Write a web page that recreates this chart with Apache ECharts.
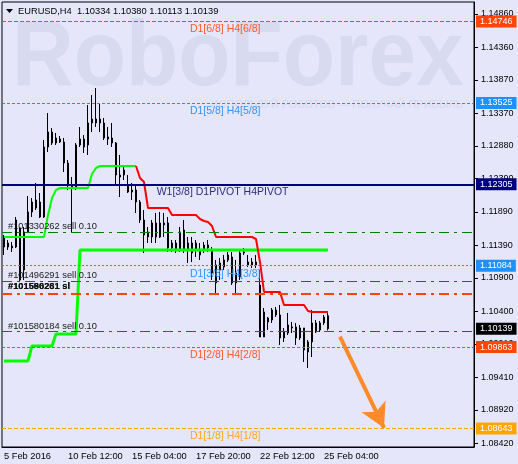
<!DOCTYPE html>
<html><head><meta charset="utf-8">
<script src="https://cdn.jsdelivr.net/npm/echarts@6/dist/echarts.min.js"></script>
<style>html,body{margin:0;padding:0;background:#E6E6FA;}#c{width:518px;height:464px;}</style>
</head><body><div id="c"></div>
<script>
const symbolName = 'EURUSD,H4';
// H4 candles: [open, close, low, high]
const candles = [
[1.11365,1.11515,1.11245,1.11545],[1.11425,1.11365,1.1132,1.1147],[1.1138,1.1135,1.1129,1.1144],[1.11365,1.1177,1.1135,1.11815],
[1.1165,1.1087,1.1084,1.11665],[1.1159,1.1102,1.1087,1.11665],[1.1159,1.1189,1.11575,1.1213],[1.1189,1.1204,1.11815,1.1210],
[1.1195,1.1207,1.1192,1.12325],[1.1204,1.11815,1.1180,1.12175],[1.11815,1.12865,1.1180,1.1297],[1.12865,1.1309,1.1279,1.13375],
[1.1309,1.12925,1.12895,1.1315],[1.12925,1.1300,1.12895,1.13075],[1.12985,1.1294,1.12925,1.1303],[1.1294,1.12625,1.1249,1.1300],
[1.12625,1.12295,1.1222,1.1267],[1.12295,1.1225,1.11575,1.12415],[1.12265,1.12895,1.1222,1.12925],[1.12895,1.12985,1.12865,1.13165],
[1.12985,1.12865,1.12775,1.13045],[1.12895,1.13225,1.12745,1.13495],[1.13225,1.13285,1.1309,1.13645],[1.13285,1.13225,1.13165,1.1375],
[1.13225,1.13285,1.1309,1.13525],[1.13225,1.1300,1.1297,1.1330],[1.13015,1.12985,1.12895,1.13165],[1.1300,1.12925,1.12865,1.13225],
[1.12925,1.12445,1.12295,1.1294],[1.12445,1.12415,1.12115,1.12745],[1.12445,1.1252,1.1237,1.12565],[1.12295,1.1219,1.12175,1.12445],
[1.1222,1.1219,1.1207,1.12325],[1.1222,1.1204,1.11875,1.12295],[1.1204,1.1177,1.11725,1.1207],[1.1177,1.11545,1.11275,1.1192],
[1.1159,1.11515,1.11425,1.11665],[1.11515,1.11725,1.11425,1.1177],[1.11515,1.11725,1.11425,1.11875],[1.11515,1.11725,1.1150,1.1189],
[1.11725,1.11695,1.11515,1.11875],[1.11725,1.1135,1.1129,1.11815],[1.1135,1.11425,1.1129,1.1147],[1.11425,1.1132,1.11275,1.1147],
[1.1132,1.1159,1.1129,1.11665],[1.1162,1.1132,1.11275,1.1177],[1.11425,1.1132,1.11125,1.11515],[1.11425,1.11275,1.1114,1.11515],
[1.11425,1.1132,1.11215,1.1147],[1.11245,1.1132,1.1117,1.11425],[1.1132,1.11395,1.11275,1.1144],[1.1135,1.11395,1.1129,1.1147],
[1.1132,1.10975,1.1087,1.11365],[1.10825,1.11095,1.10675,1.1117],[1.1102,1.11125,1.1087,1.1120],[1.11065,1.1117,1.1102,1.11245],
[1.1117,1.11245,1.1114,1.1129],[1.11215,1.10825,1.10795,1.1129],[1.10975,1.10825,1.10645,1.1117],[1.10915,1.11275,1.1087,1.1132],
[1.1129,1.11275,1.11245,1.1135],[1.11095,1.1114,1.11065,1.11245],[1.11095,1.1114,1.1105,1.1120],[1.1114,1.11095,1.1105,1.11245],
[1.10795,1.10015,1.10015,1.1102],[1.10015,1.1039,1.10015,1.1045],[1.1024,1.1030,1.1012,1.10315],[1.1027,1.1042,1.10225,1.1045],
[1.1042,1.10345,1.10315,1.10465],[1.10345,1.1000,1.09895,1.10495],[1.1000,1.1009,1.0994,1.1015],[1.10075,1.10195,1.10045,1.10375],
[1.10165,1.1015,1.10075,1.1024],[1.10165,1.1000,1.09895,1.10225],[1.1015,1.1000,1.0997,1.10195],[1.1015,1.0982,1.0964,1.1015],
[1.0994,1.0979,1.0955,1.0997],[1.0994,1.10225,1.09715,1.1042],[1.1009,1.10225,1.10075,1.1027],[1.1012,1.10225,1.1009,1.10255],
[1.10225,1.10315,1.10195,1.10345],[1.10334,1.10139,1.10113,1.10380]
];
// trailing line, green part (bars 0..33) and red part (bars 33..81)
const trailGreen = [1.11515,1.11515,1.11515,1.11515,1.11515,1.11515,1.11515,1.11515,1.11515,1.11515,1.11515,
  1.11845,1.1210,1.1222,1.1225,1.1225,1.1225,1.1225,1.1225,1.1225,1.1225,1.1225,1.1246,1.1255,
  1.1258,1.1258,1.1258,1.1258,1.1258,1.1258,1.1258,1.1258,1.1258,1.1258];
const trailRedStart = 33;
const trailRed = [1.1258,1.1240,1.1234,1.1195,1.1195,1.1195,1.1195,1.1195,1.1195,
  1.11845,1.11845,1.11845,1.11845,1.11845,1.11845,1.11845,1.11785,1.11755,1.1174,1.1168,
  1.11515,1.11515,1.11515,1.11515,1.11515,1.11515,1.11515,1.11515,1.11515,1.11515,1.11485,1.1114,
  1.1069,1.1069,1.1069,1.1069,1.1069,1.10495,1.10495,1.10495,1.10495,1.10495,1.10495,1.10405,
  1.1039,1.1039,1.1039,1.1039,1.1039];
// lower green step line (bars 0..81)
const lowerGreen = [1.09655,1.09655,1.09655,1.09655,1.09655,1.09655,1.09655,
  1.0988,1.0988,1.0988,1.0988,1.0988,1.0988,
  1.1006,1.1006,1.1006,1.1006,1.1006,1.1006,
  1.1132,1.1132,1.1132,1.1132,1.1132,1.1132,1.1132,1.1132,1.1132,1.1132,1.1132,1.1132,1.1132,1.1132,1.1132,1.1132,
  1.1132,1.1132,1.1132,1.1132,1.1132,1.1132,1.1132,1.1132,1.1132,1.1132,1.1132,1.1132,1.1132,1.1132,1.1132,1.1132,
  1.1132,1.1132,1.1132,1.1132,1.1132,1.1132,1.1132,1.1132,1.1132,1.1132,1.1132,1.1132,1.1132,1.1132,1.1132,1.1132,
  1.1132,1.1132,1.1132,1.1132,1.1132,1.1132,1.1132,1.1132,1.1132,1.1132,1.1132,1.1132,1.1132,1.1132,1.1132];
const slotCount = 118;
const xTickIndex = [0,16,32,48,64,80];
const xTickLabels = ['5 Feb 2016','10 Feb 12:00','15 Feb 04:00','17 Feb 20:00','22 Feb 12:00','25 Feb 04:00'];
const yTickValues = [1.14860,1.14360,1.13870,1.13370,1.12880,1.12390,1.11890,1.11390,1.10900,1.10400,1.09910,1.09410,1.08920,1.08420];
const murrayValues = [1.14746,1.13525,1.12305,1.11084,1.09863,1.08643];
const murrayNames = ['D1[6/8] H4[6/8]','D1[5/8] H4[5/8]','W1[3/8] D1PIVOT H4PIVOT','D1[3/8] H4[3/8]','D1[2/8] H4[2/8]','D1[1/8] H4[1/8]'];
const murrayLabelBar = [64,64,71,64,64,64];
const orderValues = [1.11585,1.10855,1.10095];
const orderNames = ['#101330262 sell 0.10','#101496291 sell 0.10','#101580184 sell 0.10'];
const slValue = 1.1067;
const slNames = ['#101580261 sl','#101596281 sl'];
const arrowFrom = [84, 1.1002];
const arrowTo = [95, 1.0865];

// styles
const FONT = '"Liberation Sans", Arial, sans-serif';
const CLEAR = 'rgba(0,0,0,0)';
const murrayStyle = [
  {c:'#FF4500', t:'#FF5A28', type:[4,2], w:1},
  {c:'#1E90FF', t:'#2F95FF', type:[3,2], w:1},
  {c:'#000080', t:'#2B2B85', type:'solid', w:2},
  {c:'#1E90FF', t:'#2F95FF', type:[2,2], w:1},
  {c:'#FF4500', t:'#FF5A28', type:[3,2], w:1},
  {c:'#FFA500', t:'#FFA820', type:[4,2], w:1}
];
const last = candles[candles.length-1];
const cats = Array.from({length: slotCount}, (_, i) => String(i));
function pad(arr, start){ const d = new Array(slotCount).fill('-'); arr.forEach((v,k)=>{ d[start+k]=v; }); return d; }

const boxLabel = (bg, txt) => ({show:true, position:'end', distance:2, formatter: txt, backgroundColor:bg, color:'#fff',
  padding:[2,4,1,4], fontSize:9, fontFamily:FONT});

const markLines = [];
murrayValues.forEach((v,i)=>{
  const s = murrayStyle[i];
  markLines.push({yAxis:v, lineStyle:{color:s.c, type:s.type, width:s.w}, label: boxLabel(s.c, v.toFixed(5))});
});
orderValues.forEach((v,i)=>{
  markLines.push({yAxis:v, lineStyle:{color:'#008000', type:[10,5,3,5], width:1},
    label:{show:true, position:'insideStartTop', distance:[6,1], formatter: orderNames[i], color:'#1a1a1a', fontSize:9.3, fontFamily:FONT}});
});
slNames.forEach((n,k)=>{
  markLines.push({yAxis:slValue, lineStyle: k===0 ? {color:'#FF4500', type:[10,5,3,5], width:2} : {color:CLEAR, width:1},
    label:{show:true, position:'insideStartTop', distance:[6,2], formatter:n, color:'#111', fontSize:9.3, fontWeight:'bold', fontFamily:FONT}});
});
markLines.push({yAxis:last[1], lineStyle:{color:CLEAR, width:1}, label: boxLabel('#000000', last[1].toFixed(5))});
markLines.push([
  {coord:arrowFrom, symbol:'none', lineStyle:{color:'#FF8A2A', width:4, type:'solid'}, label:{show:false}},
  {coord:arrowTo, symbol:'arrow', symbolSize:[20,24]}
]);

const markPoints = murrayValues.map((v,i)=>({
  coord:[murrayLabelBar[i], v], symbol:'rect', symbolSize:1, itemStyle:{color:CLEAR},
  label:{show:true, position:'left', distance:0, offset:[1,8], formatter: murrayNames[i], color: murrayStyle[i].t, fontSize:10.5, fontFamily:FONT}
}));

const chart = echarts.init(document.getElementById('c'), null, {renderer:'canvas'});
chart.setOption({
  animation:false,
  backgroundColor:'#E6E6FA',
  grid:{left:2, right:44, top:2, bottom:17, show:true, borderColor:'#000', borderWidth:1, backgroundColor:'transparent'},
  xAxis:{type:'category', data:cats, boundaryGap:true,
    axisLine:{lineStyle:{color:'#000', width:1}},
    axisTick:{alignWithLabel:true, length:4, lineStyle:{color:'#000'}, interval:(i)=>xTickIndex.includes(i)},
    axisLabel:{interval:(i)=>xTickIndex.includes(i), formatter:(v)=>xTickLabels[xTickIndex.indexOf(Number(v))] || '', align:'left', margin:5, color:'#000', fontSize:9.3, fontFamily:FONT},
    splitLine:{show:false}},
  yAxis:{type:'value', position:'right', min:1.083645, max:1.1504, scale:true,
    axisLine:{show:true, lineStyle:{color:'#000'}},
    axisTick:{show:true, length:4, customValues:yTickValues, lineStyle:{color:'#000'}},
    axisLabel:{customValues:yTickValues, formatter:(v)=>v.toFixed(5), margin:7, color:'#000', fontSize:9, fontFamily:FONT},
    splitLine:{show:false}},
  graphic:[
    {type:'text', z:-5, x:12, y:60, scaleX:0.93, style:{text:'RoboForex', x:0, y:0, font:'bold 92px "Liberation Sans", Arial, sans-serif', fill:'#D8DAEF', textVerticalAlign:'middle'}},
    {type:'text', z:-5, style:{text:'ИСПОЛЬЗУЙ РОБОТОВ — ПОЛУЧАЙ ПРИБЫЛЬ', x:463, y:105, font:'11px "Liberation Sans", Arial, sans-serif', fill:'#D6D8EE', textAlign:'right', textVerticalAlign:'middle'}},
    {type:'polygon', z:100, shape:{points:[[6,9],[13,9],[9.5,13]]}, style:{fill:'#000'}},
    {type:'text', z:100, style:{text: symbolName + '  ' + [last[0], last[3], last[2], last[1]].map(v=>v.toFixed(5)).join(' '), x:18, y:11, font:'9.3px "Liberation Sans", Arial, sans-serif', fill:'#000', textVerticalAlign:'middle'}}
  ],
  series:[
    {type:'candlestick', data:candles, barWidth:2, z:3,
      itemStyle:{color:'#FFFFFF', color0:'#000000', borderColor:'#000000', borderColor0:'#000000', borderWidth:1},
      markLine:{silent:true, symbol:'none', precision:5, animation:false, data:markLines},
      markPoint:{silent:true, animation:false, data:markPoints}},
    {type:'line', data:pad(lowerGreen,0), symbol:'none', z:4, lineStyle:{color:'#00FF00', width:3}, itemStyle:{color:'#00FF00'}},
    {type:'line', data:pad(trailGreen,0), symbol:'none', z:4, lineStyle:{color:'#00FF00', width:2}, itemStyle:{color:'#00FF00'}},
    {type:'line', data:pad(trailRed,trailRedStart), symbol:'none', z:4, lineStyle:{color:'#FF0000', width:2}, itemStyle:{color:'#FF0000'}}
  ]
});
</script></body></html>
